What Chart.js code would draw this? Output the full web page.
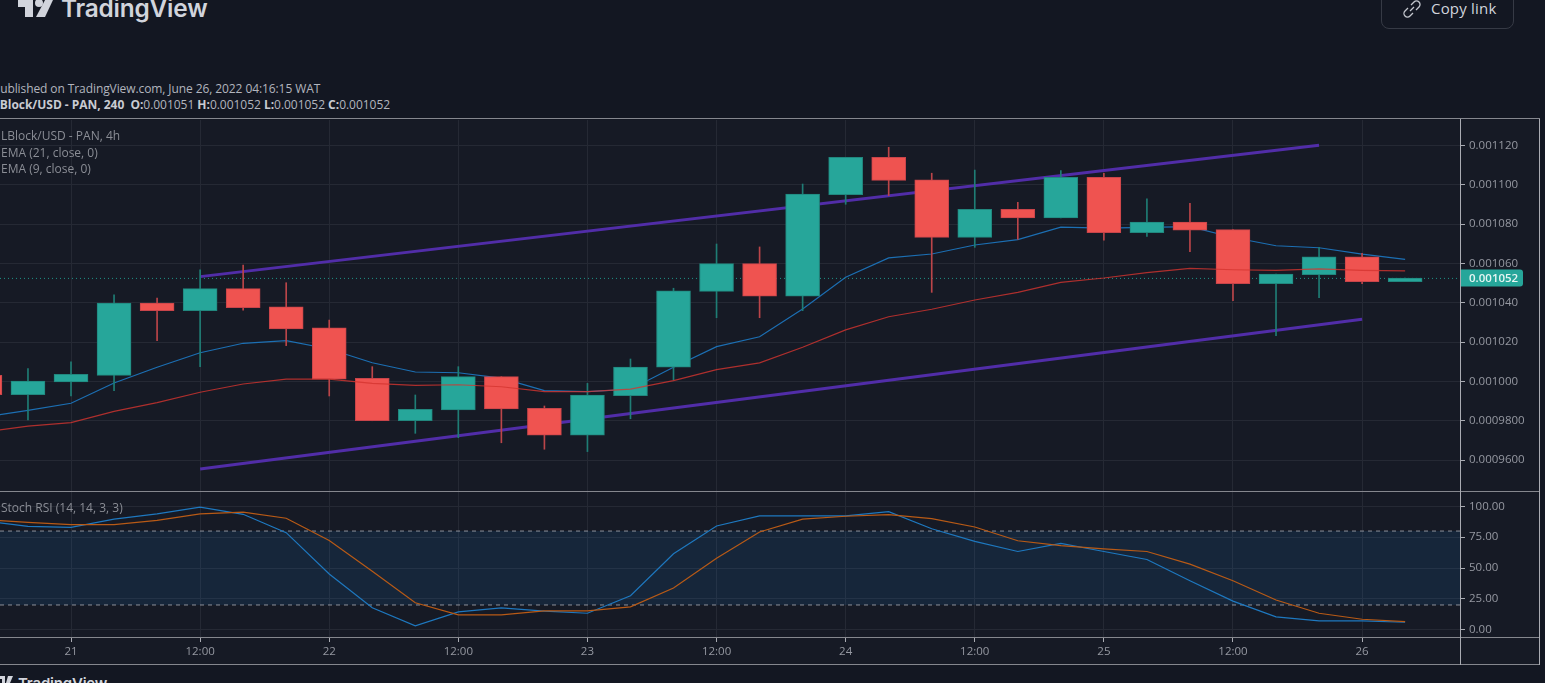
<!DOCTYPE html>
<html>
<head>
<meta charset="utf-8">
<title>LBlock/USD</title>
<script src="https://cdn.jsdelivr.net/npm/chart.js@4"></script>
<style>
  html, body { margin: 0; width: 1545px; height: 683px; overflow: hidden; background: #131722; }
  body { position: relative; font-family: "Open Sans", sans-serif; font-size: 12px; }
  canvas { position: absolute; left: 0; display: block; }
  #priceChart { top: 120px; }
  #stochChart { top: 491px; }
  .txt { position: absolute; white-space: pre; line-height: 16px; }
  .hline { position: absolute; left: 0; width: 1540px; height: 1px; background: #85878e; }
  .vline { position: absolute; top: 119px; height: 546px; width: 1px; background: #a9abb2; }
  .legend { color: #8a8d95; }
  .head { color: #b2b5be; letter-spacing: -0.09px; }
  .head b { color: #c9cbd2; font-weight: 700; }
  #logoTop { left: 61px; top: -12px; font: 600 24.4px/40px Inter, sans-serif; color: #d1d4dc; letter-spacing: -0.2px; }
  #logoBottom { left: 18px; top: 672px; font: 600 15px/24px Inter, sans-serif; color: #d1d4dc; letter-spacing: -0.2px; }
  #copyBox { position: absolute; left: 1381px; top: -12px; width: 131px; height: 39px; border: 1px solid #363a45; border-radius: 8px; }
  #copyText { left: 1431px; top: 0; font-size: 15px; line-height: 17px; color: #d1d4dc; letter-spacing: 0.2px; }
</style>
</head>
<body>
<canvas id="priceChart" width="1540" height="371"></canvas>
<canvas id="stochChart" width="1540" height="174"></canvas>

<div class="hline" style="top:118px"></div>
<div class="hline" style="top:491px"></div>
<div class="hline" style="top:637px"></div>
<div class="hline" style="top:664px"></div>
<div class="vline" style="left:1460px"></div>
<div class="vline" style="left:1539px"></div>

<svg style="position:absolute;left:18px;top:0" width="36" height="18" viewBox="0 0 36 18">
  <path d="M0 0H15V17H7V7H0Z" fill="#d1d4dc"/>
  <circle cx="21" cy="3" r="4" fill="#d1d4dc"/>
  <path d="M27 0H35L27 17H18Z" fill="#d1d4dc"/>
</svg>
<div class="txt" id="logoTop">TradingView</div>
<svg style="position:absolute;left:0;top:676px" width="13" height="7" viewBox="0 0 13 7">
  <path d="M0 0H5V7H2V3H0Z" fill="#d1d4dc"/>
  <path d="M8 0H13L10 7H6Z" fill="#d1d4dc"/>
</svg>
<div class="txt" id="logoBottom">TradingView</div>

<div id="copyBox"></div>
<svg style="position:absolute;left:1403px;top:0" width="18" height="18" viewBox="0 0 18 18" fill="none" stroke="#c4c7ce" stroke-width="1.3">
  <path d="M7 11L11 7"/>
  <path d="M8 5l3-3a3.4 3.4 0 0 1 5 5l-3 3"/>
  <path d="M10 13l-3 3a3.4 3.4 0 0 1-5-5l3-3"/>
</svg>
<div class="txt" id="copyText">Copy link</div>

<div class="txt head" style="left:-7px;top:81px">Published on TradingView.com, June 26, 2022 04:16:15 WAT</div>
<div class="txt head" style="left:-7px;top:97px;letter-spacing:-0.03px"><b>LBlock/USD - PAN, 240  O:</b>0.001051 <b>H:</b>0.001052 <b>L:</b>0.001052 <b>C:</b>0.001052</div>
<div class="txt legend" style="left:1px;top:128px">LBlock/USD - PAN, 4h</div>
<div class="txt legend" style="left:1px;top:145px">EMA (21, close, 0)</div>
<div class="txt legend" style="left:1px;top:161px">EMA (9, close, 0)</div>
<div class="txt legend" style="left:1px;top:500px">Stoch RSI (14, 14, 3, 3)</div>

<script>
// hours counted from June 21 00:00, one candle every 4h
const candleHours = [-8, -4, 0, 4, 8, 12, 16, 20, 24, 28, 32, 36, 40, 44, 48, 52, 56, 60, 64, 68, 72, 76, 80, 84, 88, 92, 96, 100, 104, 108, 112, 116, 120, 124];

const opens = [0.0010031, 0.0009932, 0.0009997, 0.0010031, 0.0010399, 0.0010360, 0.0010472, 0.0010379, 0.0010272, 0.0010016, 0.0009800, 0.0009855, 0.0010024, 0.0009863, 0.0009727, 0.0009927, 0.0010072, 0.0010458, 0.0010599, 0.0010434, 0.0010950, 0.0011140, 0.0011026, 0.0010733, 0.0010875, 0.0010831, 0.0011038, 0.0010756, 0.0010811, 0.0010772, 0.0010497, 0.0010543, 0.0010634, 0.0010507];
const highs = [0.0010048, 0.0010065, 0.0010099, 0.0010440, 0.0010424, 0.0010567, 0.0010592, 0.0010502, 0.0010312, 0.0010075, 0.0009931, 0.0010075, 0.0010024, 0.0009875, 0.0009990, 0.0010114, 0.0010474, 0.0010699, 0.0010684, 0.0011004, 0.0011140, 0.0011191, 0.0011059, 0.0011075, 0.0010911, 0.0011072, 0.0011059, 0.0010929, 0.0010906, 0.0010772, 0.0010546, 0.0010682, 0.0010652, 0.0010526];
const lows = [0.0009926, 0.0009804, 0.0009926, 0.0009953, 0.0010207, 0.0010075, 0.0010363, 0.0010182, 0.0009926, 0.0009800, 0.0009736, 0.0009714, 0.0009688, 0.0009655, 0.0009643, 0.0009810, 0.0010007, 0.0010324, 0.0010324, 0.0010360, 0.0010901, 0.0010945, 0.0010453, 0.0010682, 0.0010723, 0.0010831, 0.0010719, 0.0010738, 0.0010660, 0.0010411, 0.0010233, 0.0010426, 0.0010497, 0.0010507];
const closes = [0.0009932, 0.0010002, 0.0010036, 0.0010399, 0.0010360, 0.0010472, 0.0010375, 0.0010267, 0.0010011, 0.0009800, 0.0009858, 0.0010024, 0.0009860, 0.0009727, 0.0009931, 0.0010073, 0.0010461, 0.0010599, 0.0010434, 0.0010953, 0.0011140, 0.0011023, 0.0010733, 0.0010875, 0.0010831, 0.0011038, 0.0010756, 0.0010811, 0.0010769, 0.0010497, 0.0010546, 0.0010634, 0.0010507, 0.0010526];

const ema9 = [0.0009819, 0.0009853, 0.0009889, 0.0009992, 0.0010072, 0.0010146, 0.0010194, 0.0010207, 0.0010165, 0.0010095, 0.0010048, 0.0010044, 0.0010017, 0.0009953, 0.0009948, 0.0009960, 0.0010072, 0.0010177, 0.0010227, 0.0010368, 0.0010530, 0.0010628, 0.0010648, 0.0010694, 0.0010721, 0.0010785, 0.0010780, 0.0010784, 0.0010787, 0.0010732, 0.0010690, 0.0010680, 0.0010647, 0.0010621];
const ema21 = [0.0009743, 0.0009773, 0.0009790, 0.0009848, 0.0009892, 0.0009945, 0.0009987, 0.0010012, 0.0010012, 0.0009990, 0.0009980, 0.0009983, 0.0009973, 0.0009948, 0.0009948, 0.0009961, 0.0010004, 0.0010060, 0.0010094, 0.0010174, 0.0010262, 0.0010329, 0.0010367, 0.0010414, 0.0010453, 0.0010504, 0.0010526, 0.0010553, 0.0010575, 0.0010568, 0.0010565, 0.0010572, 0.0010565, 0.0010562];

const stochK = [88.2, 83.8, 83.0, 89.6, 93.9, 99.4, 93.6, 78.7, 45.2, 17.7, 3.0, 14.4, 17.7, 15.0, 13.3, 27.5, 61.5, 84.1, 92.3, 92.3, 92.3, 95.8, 81.9, 71.6, 63.4, 70.0, 63.4, 56.9, 39.7, 23.1, 10.3, 7.1, 7.1, 6.0];
const stochD = [89.3, 87.1, 85.2, 85.2, 88.7, 93.9, 95.3, 90.4, 72.4, 47.4, 21.8, 12.0, 12.0, 15.2, 15.2, 18.5, 33.8, 58.0, 79.2, 89.6, 92.0, 93.4, 90.1, 83.3, 72.1, 68.1, 65.6, 63.4, 53.1, 39.7, 24.0, 13.3, 8.4, 6.5];

// trend lines: [hour, price] at both ends
const upperTrend = [[12, 0.0010533], [116, 0.0011201]];
const lowerTrend = [[12, 0.0009555], [120, 0.0010316]];

const lastPrice = 0.0010524;
const lastPriceLabel = "0.001052";

const priceTicks = [0.00096, 0.00098, 0.00100, 0.00102, 0.00104, 0.00106, 0.00108, 0.00110, 0.00112];
const priceTickLabels = ["0.0009600", "0.0009800", "0.001000", "0.001020", "0.001040", "0.001060", "0.001080", "0.001100", "0.001120"];
const stochTicks = [0, 25, 50, 75, 100];
const stochTickLabels = ["0.00", "25.00", "50.00", "75.00", "100.00"];
const stochUpper = 80;
const stochLower = 20;
const timeTicks = [0, 12, 24, 36, 48, 60, 72, 84, 96, 108, 120];
const timeLabels = ["21", "12:00", "22", "12:00", "23", "12:00", "24", "12:00", "25", "12:00", "26"];

const TEAL = "#26a69a";
const RED = "#ef5350";
const GRID = "#252934";
const AXIS = "#a9abb2";
const TICK_TEXT = "#9598a1";
const FONT = { family: "'Open Sans', sans-serif", size: 11.5 };
const X_MIN = -6.6;
const X_MAX = 129.1;

const isUp = candleHours.map((h, i) => closes[i] >= opens[i]);
const toPoints = (values) => candleHours.map((h, i) => ({ x: h, y: values[i] }));
const toLine = (pairs) => pairs.map(p => ({ x: p[0], y: p[1] }));

function lineSet(data, color, width, order, extra) {
  return Object.assign({
    type: "line", data: data, borderColor: color, borderWidth: width,
    pointRadius: 0, tension: 0, order: order
  }, extra || {});
}

function xScale(showLabels) {
  return {
    type: "linear", offset: false, min: X_MIN, max: X_MAX,
    afterBuildTicks: axis => { axis.ticks = timeTicks.map(v => ({ value: v })); },
    afterFit: axis => {
      axis.height = showLabels ? 27 : 0;
      axis.paddingLeft = 0;
      axis.paddingRight = 0;
    },
    border: { display: false },
    grid: { offset: false, color: GRID, tickColor: AXIS, tickLength: 4, drawTicks: showLabels },
    ticks: {
      display: showLabels, autoSkip: false, maxRotation: 0, minRotation: 0, padding: 3,
      color: TICK_TEXT, font: FONT,
      callback: value => timeLabels[timeTicks.indexOf(value)]
    }
  };
}

function yScale(min, max, tickValues, tickLabels) {
  return {
    position: "right", min: min, max: max,
    afterBuildTicks: axis => { axis.ticks = tickValues.map(v => ({ value: v })); },
    afterFit: axis => {
      axis.width = 80;
      // no inset for the tick labels, the pane fills the canvas
      axis.paddingTop = 0;
      axis.paddingBottom = 0;
    },
    border: { display: false },
    grid: { color: GRID, tickColor: AXIS, tickLength: 5 },
    ticks: {
      autoSkip: false, padding: 4, color: TICK_TEXT, font: FONT,
      callback: value => tickLabels[tickValues.indexOf(value)]
    }
  };
}

const paintBackground = {
  id: "paintBackground",
  beforeDraw(chart) {
    chart.ctx.fillStyle = "#161a25";
    chart.ctx.fillRect(0, 0, chart.width, chart.height);
  }
};

// price tag on the right axis
const lastPriceTag = {
  id: "lastPriceTag",
  afterDraw(chart) {
    const ctx = chart.ctx;
    const y = chart.scales.y.getPixelForValue(lastPrice);
    ctx.save();
    ctx.fillStyle = TEAL;
    ctx.beginPath();
    ctx.roundRect(1460, y - 9, 63, 17, [0, 3, 3, 0]);
    ctx.fill();
    ctx.fillStyle = "#e6f5f3";
    ctx.font = "600 11.5px 'Open Sans', sans-serif";
    ctx.textBaseline = "middle";
    ctx.fillText(lastPriceLabel, 1469, y);
    ctx.restore();
  }
};

function criarGraficoPreco() {
  const ctx = document.getElementById("priceChart").getContext("2d");
  new Chart(ctx, {
    type: "bar",
    data: {
      datasets: [
        lineSet(toLine(upperTrend), "#512da8", 3, 9),
        lineSet(toLine(lowerTrend), "#512da8", 3, 9),
        lineSet(toPoints(ema9), "#1c6fb3", 1.2, 8),
        lineSet([{ x: X_MIN, y: lastPrice }, { x: X_MAX, y: lastPrice }], "#1f9488", 1, 7, { borderDash: [1, 3] }),
        {
          data: candleHours.map((h, i) => ({ x: h, y: [lows[i], highs[i]] })),
          backgroundColor: isUp.map(up => up ? "#1f7d75" : "#bb4549"),
          barThickness: 1, grouped: false, order: 5
        },
        {
          data: candleHours.map((h, i) => ({ x: h, y: [opens[i], closes[i]] })),
          backgroundColor: isUp.map(up => up ? TEAL : RED),
          borderColor: isUp.map(up => up ? "#21877e" : "#c8444a"),
          borderWidth: 1, borderSkipped: false,
          barThickness: 34, grouped: false, order: 4
        },
        lineSet(toPoints(ema21), "rgba(212,52,48,0.8)", 1.2, 2)
      ]
    },
    options: {
      responsive: false, animation: false, devicePixelRatio: 1,
      layout: { padding: 0 },
      plugins: { legend: { display: false }, tooltip: { enabled: false } },
      scales: {
        x: xScale(false),
        y: yScale(0.00094426, 0.00113297, priceTicks, priceTickLabels)
      }
    },
    plugins: [paintBackground, lastPriceTag]
  });
}

function criarGraficoStoch() {
  const ctx = document.getElementById("stochChart").getContext("2d");
  const ends = [X_MIN, X_MAX];
  new Chart(ctx, {
    type: "line",
    data: {
      datasets: [
        lineSet(ends.map(x => ({ x: x, y: stochUpper })), "#8d909a", 1, 6, {
          borderDash: [4, 4], fill: { target: "+1" }, backgroundColor: "rgba(33,150,243,0.1)"
        }),
        lineSet(ends.map(x => ({ x: x, y: stochLower })), "#8d909a", 1, 5, { borderDash: [4, 4] }),
        lineSet(toPoints(stochK), "#1e78bf", 1.2, 3),
        lineSet(toPoints(stochD), "#b85a16", 1.2, 2)
      ]
    },
    options: {
      responsive: false, animation: false, devicePixelRatio: 1,
      layout: { padding: 0 },
      plugins: { legend: { display: false }, tooltip: { enabled: false } },
      scales: {
        x: xScale(true),
        y: yScale(-6.8, 112.5, stochTicks, stochTickLabels)
      }
    },
    plugins: [paintBackground]
  });
}

criarGraficoPreco();
criarGraficoStoch();
</script>
</body>
</html>
